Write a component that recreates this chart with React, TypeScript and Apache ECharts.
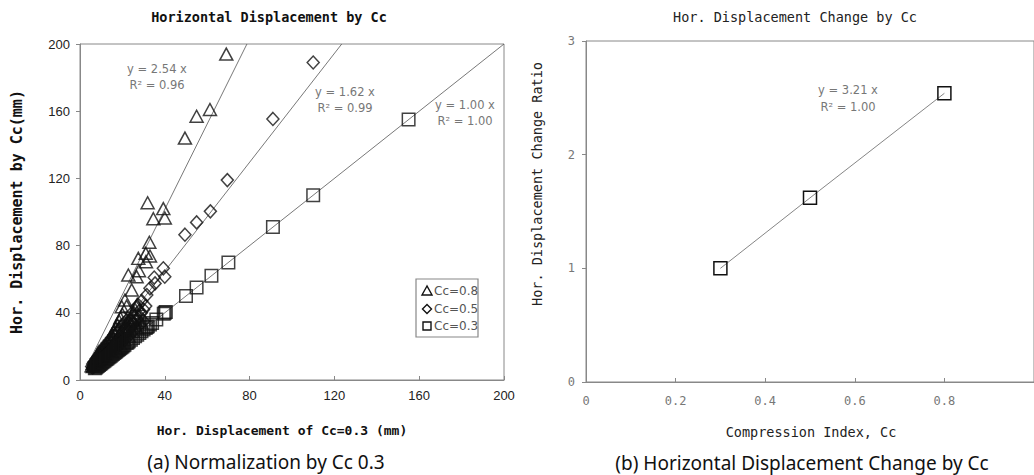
import React, { useEffect, useRef } from "react";
import * as echarts from "echarts";

// Horizontal displacement of each Cc case against the Cc = 0.3 case (mm)
const cc08Points: number[][] = [
  [5.5, 8.5], [6, 10], [6.5, 9], [7, 11.5], [7.5, 13], [8, 12], [8, 14.5], [8.5, 16],
  [9, 13.5], [9, 17], [9.5, 15], [10, 18.5], [10.5, 16.5], [11, 20], [11.5, 18], [12, 21.5],
  [12.5, 19.5], [13, 23], [13.5, 21], [14, 25], [14.5, 23], [15, 27], [15.5, 25], [16, 29],
  [16.5, 27], [17, 31], [17.5, 33], [18, 30], [18.5, 35], [19, 37], [19.7, 43.6], [20, 39],
  [21.2, 47.6], [22, 44], [22.8, 62.5], [24.4, 53.6], [26.7, 61.5], [27.8, 65], [27.5, 72.4],
  [31, 75.4], [33, 73.8], [31.1, 70.4], [32.7, 82], [34.6, 96], [40, 96.4], [39.3, 102],
  [31.9, 105.5], [49.5, 144], [55, 157], [61.3, 161], [69, 194],
  [6, 8], [6.5, 8.5], [7, 9.5], [7.5, 10.5], [8, 10.5], [8.5, 12], [9, 12], [9.5, 13],
  [10, 13], [10.5, 14], [11, 14.5], [11.5, 15.5], [12, 15.5], [12.5, 17], [13, 17],
  [13.5, 18.5], [14, 18], [14.5, 20], [15, 19.5], [15.5, 21.5], [16, 21], [16.5, 23],
  [17, 22], [17.5, 25], [18, 23.5], [18.5, 27], [19, 25], [19.5, 29], [20, 26], [20.5, 31],
  [21, 28], [21.5, 33], [22, 30], [23, 35], [23, 32], [24, 37], [24, 34], [25, 40], [25, 36],
  [26, 42], [27, 45],
  [15, 17], [17, 19], [19, 21.5], [21, 24], [23, 26], [25, 29], [27, 31], [29, 34],
];
const cc05Points: number[][] = [
  [5.5, 8], [6, 9.5], [6.5, 10.5], [7, 11], [7.5, 12.5], [8, 13], [8.5, 14], [9, 14.5],
  [9.5, 15.5], [10, 16], [10.5, 17], [11, 18], [11.5, 18.5], [12, 19.5], [12.5, 20], [13, 21],
  [13.5, 22], [14, 22.5], [14.5, 23.5], [15, 24], [16, 26], [17, 27.5], [18, 29], [19, 31],
  [20, 32.5], [21, 34], [22, 35.5], [23.6, 35.7], [24.4, 39.7], [26.7, 43.6], [27.5, 44.6],
  [29.1, 47], [31.5, 50.6], [33, 54.6], [35.4, 57.5], [35, 61], [40, 61.5], [39.3, 66.5],
  [49.5, 86.5], [55, 93.8], [61.5, 100.4], [69.5, 119], [91, 155.4], [110, 189],
  [6, 7.5], [6.5, 8], [7, 8.5], [7.5, 9], [8, 9.5], [8.5, 10.5], [9, 11], [9.5, 11.5],
  [10, 12], [10.5, 13], [11, 13], [11.5, 14], [12, 14.5], [12.5, 15.5], [13, 15.5],
  [13.5, 16.5], [14, 17], [14.5, 18], [15, 18], [15.5, 19.5], [16, 19.5], [16.5, 21],
  [17, 21], [17.5, 22.5], [18, 22], [18.5, 24], [19, 23.5], [19.5, 25.5], [20, 25], [21, 27],
  [21, 29], [22, 28], [22, 31], [23, 29.5], [24, 31.5], [24, 35], [25, 33], [26, 35], [26, 38],
  [27, 36], [28, 38], [28, 41], [29, 40], [30, 42], [31, 44],
  [16, 17.5], [18, 20], [20, 22.5], [22, 25], [24, 27.5], [26, 30], [28, 32.5], [30, 35],
];
const cc03Points: number[][] = [
  [7, 7], [7.5, 7.5], [8, 8], [8.5, 8.5], [9, 9], [9.5, 9.5], [10, 10], [10.5, 10.5],
  [11, 11], [11.5, 11.5], [12, 12], [12.5, 12.5], [13, 13], [13.5, 13.5], [14, 14],
  [14.5, 14.5], [15, 15], [15.5, 15.5], [16, 16], [16.5, 16.5], [17, 17], [17.5, 17.5],
  [18, 18], [18.5, 18.5], [19, 19], [19.5, 19.5], [20, 20], [20.5, 20.5], [21, 21], [22, 22],
  [22.5, 22.5], [23, 23], [24, 24], [25, 25], [26, 26], [27, 27], [28, 28], [29, 29],
  [30, 30], [31, 31], [31.5, 31.5], [32, 32], [33, 33], [34, 34], [36, 36], [39.5, 39.5],
  [40, 40], [40.5, 40.5], [50, 50], [55, 55], [62, 62], [70, 70], [91, 91], [110, 110],
  [155, 155],
];

// Linear fits through the origin for each case
const caseNames = ["Cc=0.8", "Cc=0.5", "Cc=0.3"];
const fitSlopes = [2.54, 1.62, 1.0];
const fitR2 = [0.96, 0.99, 1.0];
const fitStartX = [5.5, 5, 5];

// Change ratio of horizontal displacement by compression index
const ccIndex = [0.3, 0.5, 0.8];
const changeRatio = [1.0, 1.62, 2.54];
const ratioSlope = 3.21;
const ratioR2 = 1.0;

const MONO = "'DejaVu Sans Mono', monospace";
const SANS = "'Liberation Sans', Arial, sans-serif";
const FIT_FONT = "'DejaVu Sans', sans-serif";

function fitLine(slope: number, x0: number, xMax: number, yMax: number) {
  const x1 = Math.min(xMax, yMax / slope);
  return [
    [x0, slope * x0],
    [x1, slope * x1],
  ];
}

function label(
  text: string,
  x: number,
  y: number,
  font: string,
  fill: string,
  rotation = 0
) {
  return {
    type: "text",
    x,
    y,
    rotation,
    z: 100,
    style: { text, font, fill, align: "center", verticalAlign: "middle" },
  };
}

export default function App() {
  const ref = useRef<HTMLDivElement>(null);

  useEffect(() => {
    if (!ref.current) return;
    const chart = echarts.init(ref.current, undefined, { renderer: "svg" });

    const markerStyle = {
      color: "rgba(0,0,0,0)",
      borderColor: "#111",
      borderWidth: 1.5,
    };
    const fitLineStyle = { color: "#555", width: 0.8 };

    const scatterSeries = [cc08Points, cc05Points, cc03Points].map((pts, i) => ({
      type: "scatter",
      name: caseNames[i],
      xAxisIndex: 0,
      yAxisIndex: 0,
      symbol: ["triangle", "diamond", "rect"][i],
      symbolSize: [[13, 12], [12, 13], 12.5][i],
      itemStyle: markerStyle,
      data: pts,
      z: 3,
    }));

    const fitSeries = fitSlopes.map((s, i) => ({
      type: "line",
      xAxisIndex: 0,
      yAxisIndex: 0,
      symbol: "none",
      lineStyle: fitLineStyle,
      data: fitLine(s, fitStartX[i], 200, 200),
      z: 2,
      silent: true,
    }));

    const fitLabelPos = [
      [157, 69],
      [345, 92],
      [465, 105],
    ];
    const fitLabels: any[] = [];
    fitSlopes.forEach((s, i) => {
      fitLabels.push(
        label(`y = ${s.toFixed(2)} x`, fitLabelPos[i][0], fitLabelPos[i][1], `11.5px ${FIT_FONT}`, "#777")
      );
      fitLabels.push(
        label(`R² = ${fitR2[i].toFixed(2)}`, fitLabelPos[i][0], fitLabelPos[i][1] + 16, `11.5px ${FIT_FONT}`, "#777")
      );
    });

    // legend box for the left panel
    const lx = 416;
    const ly = 279;
    const legendRows = [291, 309, 326];
    const legendGraphic: any[] = [
      {
        type: "rect",
        z: 100,
        shape: { x: lx, y: ly, width: 62, height: 58 },
        style: { fill: "#fff", stroke: "#888", lineWidth: 1.2 },
      },
      {
        type: "polygon",
        z: 101,
        shape: { points: [[427, legendRows[0] - 5], [422, legendRows[0] + 4], [432, legendRows[0] + 4]] },
        style: { fill: "none", stroke: "#111", lineWidth: 1.4 },
      },
      {
        type: "polygon",
        z: 101,
        shape: { points: [[427, legendRows[1] - 4.5], [431.5, legendRows[1]], [427, legendRows[1] + 4.5], [422.5, legendRows[1]]] },
        style: { fill: "none", stroke: "#111", lineWidth: 1.4 },
      },
      {
        type: "rect",
        z: 101,
        shape: { x: 423, y: legendRows[2] - 4, width: 8, height: 8 },
        style: { fill: "none", stroke: "#111", lineWidth: 1.4 },
      },
      ...caseNames.map((n, i) => ({
        type: "text",
        z: 101,
        x: 434,
        y: legendRows[i],
        style: { text: n, font: `12px ${FIT_FONT}`, fill: "#555", align: "left", verticalAlign: "middle" },
      })),
    ];

    chart.setOption({
      animation: false,
      backgroundColor: "#fff",
      grid: [
        { left: 80, top: 44, width: 424, height: 336, show: true, borderColor: "#888", borderWidth: 1 },
        { left: 586, top: 41, width: 451, height: 341, show: true, borderColor: "#888", borderWidth: 1 },
      ],
      xAxis: [
        {
          type: "value",
          gridIndex: 0,
          min: 0,
          max: 200,
          interval: 40,
          axisLine: { show: true, onZero: false, lineStyle: { color: "#888" } },
          axisTick: { show: true, inside: true, length: 4, lineStyle: { color: "#888" } },
          axisLabel: { margin: 9, color: "#222", fontFamily: SANS, fontSize: 13 },
          splitLine: { show: false },
        },
        {
          type: "value",
          gridIndex: 1,
          min: 0,
          max: 1,
          interval: 0.2,
          axisLine: { show: true, onZero: false, lineStyle: { color: "#888" } },
          axisTick: { show: true, inside: true, length: 4, lineStyle: { color: "#888" } },
          axisLabel: {
            margin: 13,
            color: "#777",
            fontFamily: MONO,
            fontSize: 12,
            showMaxLabel: false,
            formatter: (v: number) => (v === 0 ? "0" : String(+v.toFixed(1))),
          },
          splitLine: { show: false },
        },
      ],
      yAxis: [
        {
          type: "value",
          gridIndex: 0,
          min: 0,
          max: 200,
          interval: 40,
          axisLine: { show: true, onZero: false, lineStyle: { color: "#888" } },
          axisTick: { show: true, length: 4, lineStyle: { color: "#888" } },
          axisLabel: { margin: 10, color: "#222", fontFamily: SANS, fontSize: 13 },
          splitLine: { show: false },
        },
        {
          type: "value",
          gridIndex: 1,
          min: 0,
          max: 3,
          interval: 1,
          axisLine: { show: true, onZero: false, lineStyle: { color: "#888" } },
          axisTick: { show: true, length: 4, lineStyle: { color: "#888" } },
          axisLabel: { margin: 11, color: "#777", fontFamily: MONO, fontSize: 12 },
          splitLine: { show: false },
        },
      ],
      series: [
        ...fitSeries,
        ...scatterSeries,
        {
          type: "line",
          name: "ratio",
          xAxisIndex: 1,
          yAxisIndex: 1,
          symbol: "rect",
          symbolSize: 13,
          showSymbol: true,
          itemStyle: { color: "rgba(0,0,0,0)", borderColor: "#111", borderWidth: 1.5 },
          lineStyle: { color: "#666", width: 0.8 },
          data: ccIndex.map((c, i) => [c, changeRatio[i]]),
        },
      ],
      graphic: [
        label("Horizontal Displacement by Cc", 269, 17, `bold 13.5px ${MONO}`, "#111"),
        label("Hor. Displacement by Cc(mm)", 17, 212, `bold 15px ${MONO}`, "#111", Math.PI / 2),
        label("Hor. Displacement of Cc=0.3 (mm)", 282, 430, `bold 13px ${MONO}`, "#111"),
        label("Hor. Displacement Change by Cc", 795, 17, `13.5px ${MONO}`, "#222"),
        label("Hor. Displacement Change Ratio", 537, 184, `13.5px ${MONO}`, "#222", Math.PI / 2),
        label("Compression Index, Cc", 811, 432, `13.5px ${MONO}`, "#222"),
        label("(a) Normalization by Cc 0.3", 266, 462, `19px 'Noto Sans', sans-serif`, "#111"),
        label("(b) Horizontal Displacement Change by Cc", 802, 463, `19px 'Noto Sans', sans-serif`, "#111"),
        label(`y = ${ratioSlope.toFixed(2)} x`, 848, 90, `11.5px ${FIT_FONT}`, "#777"),
        label(`R² = ${ratioR2.toFixed(2)}`, 848, 107, `11.5px ${FIT_FONT}`, "#777"),
        ...fitLabels,
        ...legendGraphic,
      ],
    });

    return () => chart.dispose();
  }, []);

  return (
    <div
      ref={ref}
      style={{ position: "fixed", left: 0, top: 0, width: 1034, height: 475, background: "#fff" }}
    />
  );
}
